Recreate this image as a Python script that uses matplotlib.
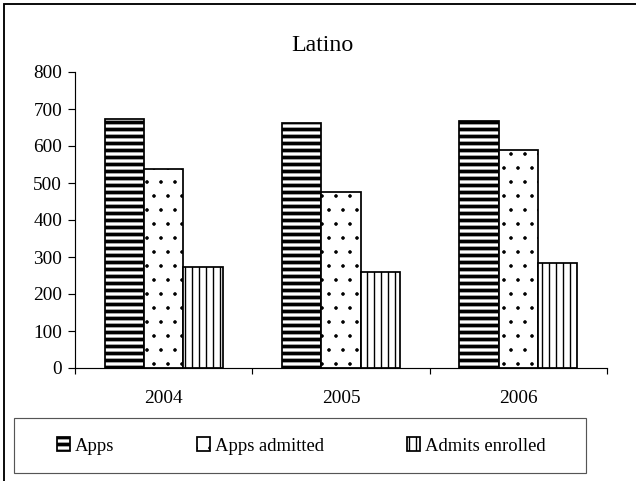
import matplotlib
matplotlib.use('Agg')
import matplotlib.pyplot as plt
import numpy as np
from matplotlib.patches import Rectangle

# data
years = ['2004', '2005', '2006']
apps = [674, 662, 668]
apps_admitted = [539, 476, 589]
admits_enrolled = [273, 259, 284]

series_names = ['Apps', 'Apps admitted', 'Admits enrolled']
series_vals = [apps, apps_admitted, admits_enrolled]
hatches = ['--', '.', '||']
hatch_lws = [3.2, 0.6, 1.2]

DPI = 84
W, H = 636, 481
plt.rcParams['font.family'] = ['Liberation Serif', 'DejaVu Serif']

fig = plt.figure(figsize=(W / DPI, H / DPI), dpi=DPI)
ax = fig.add_axes([75 / W, 1 - 368 / H, (607 - 75) / W, (368 - 72) / H])

x = np.arange(len(years))
bw = 0.222
handles = []
for i, (name, vals) in enumerate(zip(series_names, series_vals)):
    with plt.rc_context({'hatch.linewidth': hatch_lws[i]}):
        bars = ax.bar(x + (i - 1) * bw, vals, bw, color='white', edgecolor='black',
                      linewidth=1.5, hatch=hatches[i], label=name)
    for p in bars:
        if hasattr(p, 'set_hatch_linewidth'):
            p.set_hatch_linewidth(hatch_lws[i])
    handles.append(bars)

ax.set_xlim(-0.5, 2.5)
ax.set_ylim(0, 800)
ax.set_yticks(range(0, 801, 100))
ax.set_xticks(x)
ax.set_xticklabels(years)
ax.set_xticks([-0.5, 0.5, 1.5, 2.5], minor=True)
ax.tick_params(axis='x', which='major', length=0, pad=19, labelsize=16.5)
ax.tick_params(axis='x', which='minor', length=5, width=1, direction='out')
ax.tick_params(axis='y', length=6, width=1, direction='out', pad=5, labelsize=16.5)
for s in ['top', 'right']:
    ax.spines[s].set_visible(False)
for s in ['left', 'bottom']:
    ax.spines[s].set_linewidth(1.0)

fig.text(322 / W, 1 - 51 / H, 'Latino', ha='center', va='baseline', fontsize=20.5)

# outer chart frame
fig.patches.append(Rectangle((4 / W, -0.5), 2, 1.5 - 4 / H, transform=fig.transFigure,
                             fill=False, edgecolor='black', linewidth=1.6))
# legend box
fig.patches.append(Rectangle((14 / W, 1 - 473 / H), (586 - 14) / W, (473 - 418) / H,
                             transform=fig.transFigure, fill=False,
                             edgecolor='#555555', linewidth=1.0))

leg = fig.legend(handles=handles, labels=series_names, ncol=3, frameon=False,
                 loc='center left', bbox_to_anchor=(57 / W, 1 - 446 / H),
                 borderpad=0, borderaxespad=0, fontsize=16,
                 handlelength=0.7, handleheight=0.7, handletextpad=0.25,
                 columnspacing=4.45)
for h, lw in zip(leg.legend_handles, hatch_lws):
    if hasattr(h, 'set_hatch_linewidth'):
        h.set_hatch_linewidth(lw)

fig.savefig('out.png', dpi=DPI)
